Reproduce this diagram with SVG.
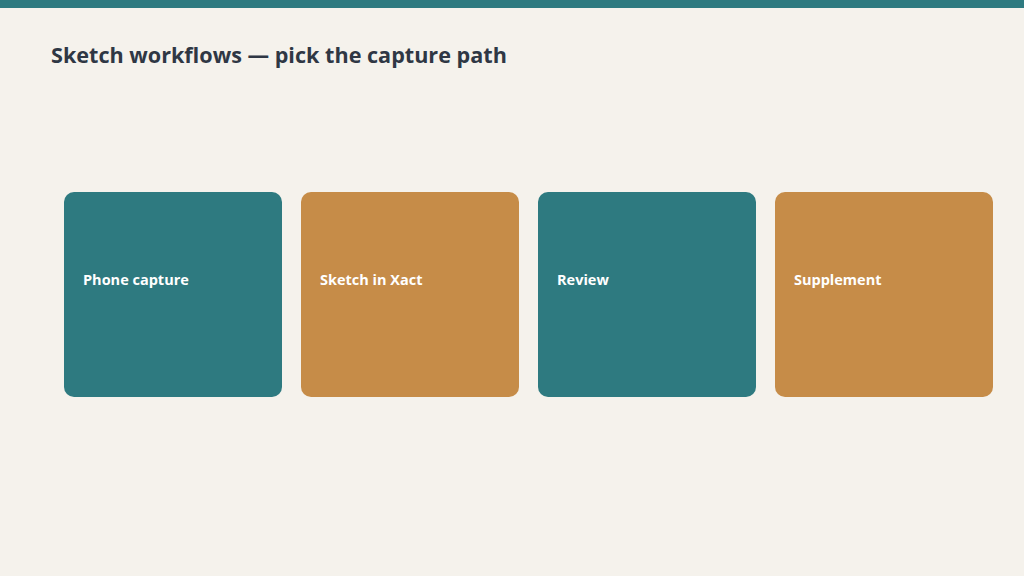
<svg xmlns="http://www.w3.org/2000/svg" width="1024" height="576" viewBox="0 0 1024 576">
<style>
.bg{fill:#f5f2ec}
.bar{fill:#2e7a80}
.title{font-family:"Open Sans","Noto Sans","Liberation Sans",sans-serif;font-weight:700;font-size:21.6px;fill:#2f3744}
.teal{fill:#2e7a80}
.orange{fill:#c68c48}
.lbl{font-family:"Open Sans","Noto Sans","Liberation Sans",sans-serif;font-weight:700;font-size:14.5px;fill:#ffffff}
</style>
<rect class="bg" x="0" y="0" width="1024" height="576"/>
<rect class="bar" x="0" y="0" width="1024" height="8"/>
<text class="title" x="51" y="63">Sketch workflows — pick the capture path</text>
<g id="connectors"></g>
<g id="node-phone-capture">
<rect class="teal" x="64" y="192" width="218" height="205" rx="10"/>
<text class="lbl" x="83" y="285">Phone capture</text>
</g>
<g id="node-sketch-in-xact">
<rect class="orange" x="301" y="192" width="218" height="205" rx="10"/>
<text class="lbl" x="320" y="285">Sketch in Xact</text>
</g>
<g id="node-review">
<rect class="teal" x="538" y="192" width="218" height="205" rx="10"/>
<text class="lbl" x="557" y="285">Review</text>
</g>
<g id="node-supplement">
<rect class="orange" x="775" y="192" width="218" height="205" rx="10"/>
<text class="lbl" x="794" y="285">Supplement</text>
</g>
</svg>
